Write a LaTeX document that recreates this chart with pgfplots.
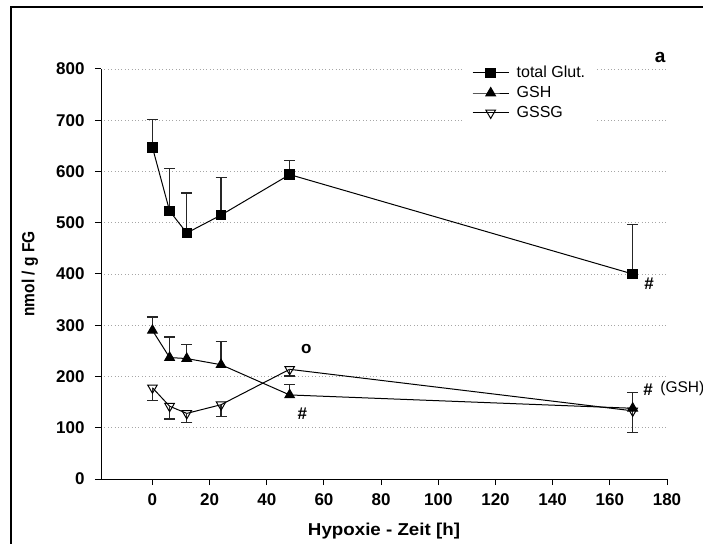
\documentclass[border=0pt]{standalone}
\usepackage{graphicx}
\usepackage{pgfplots}
\pgfplotsset{compat=1.18}
\usepackage{fontspec}
\setmainfont{Liberation Sans}

\pgfplotsset{
  longline legend/.style={legend image code/.code={%
    \draw[mark repeat=2,mark phase=2,##1]
      plot coordinates {(0bp,0bp) (18bp,0bp) (36bp,0bp)};}},
}

\begin{document}
\begin{tikzpicture}
\useasboundingbox (0bp,0bp) rectangle (703bp,544bp);
\clip (0bp,0bp) rectangle (703bp,544bp);
% outer frame
\draw[line width=2.2bp] (11bp,-20bp) rectangle (730bp,537bp);
\begin{axis}[
  at={(101bp,65bp)}, anchor=south west,
  scale only axis, width=566bp, height=410bp,
  xmin=-18, xmax=180, ymin=0, ymax=800,
  axis lines=left, axis line style={-, line width=1bp},
  xtick={0,20,...,180}, ytick={0,100,...,800},
  tick align=outside, major tick length=6bp,
  tick style={black, line width=1bp},
  ymajorgrids,
  grid style={gray!70, line width=0.7bp, dash pattern=on 0.8bp off 2.6bp},
  /pgf/number format/assume math mode=true,
  ticklabel style={font=\fontsize{17bp}{19bp}\selectfont\bfseries},
  xticklabel style={yshift=-5bp},
  yticklabel style={xshift=-7bp},
  xlabel={\scalebox{1.09}[1]{Hypoxie - Zeit [h]}},
  ylabel={\scalebox{0.885}[1]{nmol / g FG}},
  xlabel style={font=\fontsize{17.2bp}{19bp}\selectfont\bfseries,
    at={(axis description cs:0.5,0)}, anchor=center, yshift=-52.5bp},
  ylabel style={font=\fontsize{17.5bp}{19bp}\selectfont\bfseries,
    at={(axis description cs:0,0.5)}, anchor=center, rotate=0, yshift=71bp},
  clip=false,
  legend style={at={(0.6378,1.0132)}, anchor=north west, draw=none, fill=white,
    font=\fontsize{16bp}{17bp}\selectfont, inner xsep=10bp, inner ysep=1bp,
    row sep=4.3bp, nodes={inner sep=1.5bp},
    /tikz/every odd column/.append style={column sep=6bp}},
  legend cell align=left,
  every axis plot/.append style={black, line width=1bp},
  error bars/error bar style={line width=1.3bp, black!85},
  error bars/error mark options={rotate=90, mark size=5.5bp, line width=1.1bp},
]
% total glutathione
\addplot[longline legend, mark=square*, mark size=4.75bp, mark options={solid},
  error bars/.cd, y dir=plus, y explicit]
  coordinates {
  (0,647)   +- (0,54)
  (6,523)   +- (0,82)
  (12,480)  +- (0,78)
  (24,515)  +- (0,74)
  (48,594)  +- (0,28)
  (168,400) +- (0,97)
  };
\addlegendentry{total Glut.}
% reduced glutathione
\addplot[longline legend, mark=triangle*, mark size=5.5bp, mark options={solid},
  error bars/.cd, y dir=plus, y explicit]
  coordinates {
  (0,290)   +- (0,26)
  (6,237)   +- (0,40)
  (12,235)  +- (0,28)
  (24,223)  +- (0,45)
  (48,164)  +- (0,20)
  (168,138) +- (0,30)
  };
\addlegendentry{GSH}
% oxidised glutathione
\addplot[longline legend, mark=triangle, mark size=5.5bp,
  mark options={solid, rotate=180, fill=white},
  error bars/.cd, y dir=minus, y explicit]
  coordinates {
  (0,178)   +- (0,25)
  (6,142)   +- (0,25)
  (12,128)  +- (0,18)
  (24,145)  +- (0,23)
  (48,214)  +- (0,13)
  (168,133) +- (0,43)
  };
\addlegendentry{GSSG}
% significance marks
\node[font=\fontsize{17bp}{19bp}\selectfont\bfseries] at (axis cs:173.7,382) {\#};
\node[font=\fontsize{17bp}{19bp}\selectfont\bfseries] at (axis cs:52.4,127) {\#};
\node[font=\fontsize{17bp}{19bp}\selectfont\bfseries] at (axis cs:53.8,254) {o};
\node[font=\fontsize{17bp}{19bp}\selectfont\bfseries] at (axis cs:173.4,174) {\#};
\node[anchor=west, inner sep=0pt, font=\fontsize{15.5bp}{18bp}\selectfont] at (axis cs:177.6,177)
  {(GSH)};
\node[font=\fontsize{19bp}{22bp}\selectfont\bfseries] at (axis cs:177.6,822) {a};
\end{axis}
\end{tikzpicture}
\end{document}
